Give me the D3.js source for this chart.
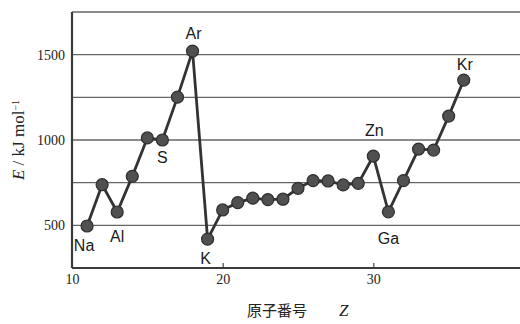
<!DOCTYPE html>
<html>
<head>
<meta charset="utf-8">
<script src="https://cdn.jsdelivr.net/npm/d3@7"></script>
<style>
  body { margin: 0; background: #fff; }
  svg { display: block; }
</style>
</head>
<body>
<svg id="chart" width="520" height="324"></svg>
<script>
// atomic numbers Na..Kr and first ionization energy (kJ/mol)
const atomicNumbers = [11,12,13,14,15,16,17,18,19,20,21,22,23,24,25,26,27,28,29,30,31,32,33,34,35,36];
const energies = [496,738,578,787,1012,1000,1251,1521,419,590,633,659,651,653,717,762,760,737,746,906,579,762,947,941,1140,1351];
// element labels shown on the chart
const labelZ = [11,13,16,18,19,30,31,36];
const labelText = ["Na","Al","S","Ar","K","Zn","Ga","Kr"];
const xTicks = [10,20,30];
const yTicks = [500,1000,1500];
const gridValues = [500,750,1000,1250,1500,1750];

//label placement relative to its point (layout only)
const labelOffset = {
  Na:[-3,25], Al:[0,30], S:[0,23], Ar:[1,-12],
  K:[-2,25], Zn:[1,-20], Ga:[0,32], Kr:[1,-10]
};

const svg = d3.select("#chart");
const plotLeft = 72, plotRight = 524, plotTop = 12, plotBottom = 268;

const x = d3.scaleLinear().domain([10,40]).range([plotLeft,plotRight]);
const y = d3.scaleLinear().domain([250,1750]).range([plotBottom,plotTop]);

//grid lines
svg.append("g").selectAll("line")
  .data(gridValues)
  .enter().append("line")
  .attr("x1",plotLeft).attr("x2",plotRight)
  .attr("y1",d=>y(d)).attr("y2",d=>y(d))
  .attr("stroke","#666")
  .attr("stroke-width",1.4);

//axes
const xAxis = d3.axisBottom(x).tickValues(xTicks).tickSize(-5).tickPadding(6).tickFormat(d3.format("d"));
const yAxis = d3.axisLeft(y).tickValues(yTicks).tickSize(0).tickPadding(7).tickFormat(d3.format("d"));

const gx = svg.append("g").attr("transform","translate(0,"+plotBottom+")").call(xAxis);
const gy = svg.append("g").attr("transform","translate("+plotLeft+",0)").call(yAxis);
[gx,gy].forEach(g=>{
  g.select(".domain").remove();
  g.selectAll("text")
    .attr("font-family","'Liberation Serif', 'DejaVu Serif', serif")
    .attr("font-size","14px")
    .attr("fill","#222");
  g.selectAll("line").attr("stroke","#444").attr("stroke-width",1.2);
});
gx.selectAll(".tick").filter(d=>d===10).select("line").remove();

svg.append("line").attr("x1",plotLeft).attr("x2",plotLeft).attr("y1",plotTop).attr("y2",plotBottom)
  .attr("stroke","#3a3a3a").attr("stroke-width",2.2);
svg.append("line").attr("x1",plotLeft).attr("x2",plotRight).attr("y1",plotBottom).attr("y2",plotBottom)
  .attr("stroke","#3a3a3a").attr("stroke-width",2.2);

//data line
const points = atomicNumbers.map((z,i)=>[z,energies[i]]);
svg.append("path")
  .datum(points)
  .attr("fill","none")
  .attr("stroke","#333")
  .attr("stroke-width",2.8)
  .attr("d",d3.line().x(d=>x(d[0])).y(d=>y(d[1])));

svg.append("g").selectAll("circle")
  .data(points)
  .enter().append("circle")
  .attr("cx",d=>x(d[0]))
  .attr("cy",d=>y(d[1]))
  .attr("r",6)
  .attr("fill","#505050")
  .attr("stroke","#2e2e2e")
  .attr("stroke-width",1.2);

//element labels
svg.append("g").selectAll("text")
  .data(labelZ)
  .enter().append("text")
  .attr("x",(d,i)=>x(d)+labelOffset[labelText[i]][0])
  .attr("y",(d,i)=>{
    const e = energies[atomicNumbers.indexOf(d)];
    return y(e)+labelOffset[labelText[i]][1];
  })
  .attr("text-anchor","middle")
  .attr("font-family","'Liberation Sans', Arial, sans-serif")
  .attr("font-size","16px")
  .attr("fill","#1a1a1a")
  .text((d,i)=>labelText[i]);

//y axis title
const yt = svg.append("text")
  .attr("transform","translate(24,140) rotate(-90)")
  .attr("text-anchor","middle")
  .attr("font-family","'Liberation Serif', 'DejaVu Serif', serif")
  .attr("font-size","17px")
  .attr("fill","#222");
yt.append("tspan").attr("font-style","italic").text("E");
yt.append("tspan").text(" / kJ mol");
yt.append("tspan").attr("baseline-shift","super").attr("font-size","10px").text("−1");

//x axis title
const xt = svg.append("text")
  .attr("x",247).attr("y",316)
  .attr("font-family","'Noto Sans CJK JP', sans-serif")
  .attr("font-size","15px")
  .attr("fill","#222");
xt.append("tspan").text("原子番号");
xt.append("tspan").attr("dx",32)
  .attr("font-family","'Liberation Serif', serif")
  .attr("font-style","italic")
  .attr("font-size","17px")
  .text("Z");
</script>
</body>
</html>
